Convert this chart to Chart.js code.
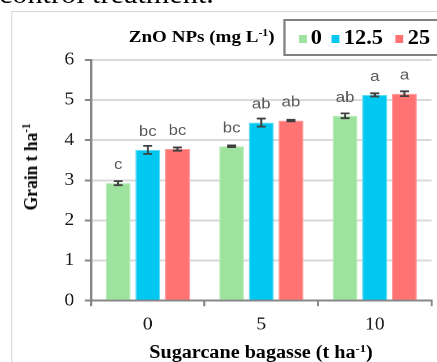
<!DOCTYPE html>
<html>
<head>
<meta charset="utf-8">
<script src="https://cdn.jsdelivr.net/npm/chart.js@4.4.1/dist/chart.umd.min.js"></script>
<style>
  body { margin: 0; background: #fff; }
  #outer { position: relative; width: 437px; height: 362px; overflow: hidden; background: #fff; }
  /* the source figure is stretched sideways, so draw narrow and widen */
  #inner { position: absolute; left: 0; top: 0; width: 390px; height: 362px; transform: scaleX(1.12); transform-origin: 0 0; }
  .serif { font-family: "Liberation Serif", "Times New Roman", serif; color: #000; position: absolute; white-space: nowrap; }
  .b { font-weight: bold; }
  sup { font-size: 0.62em; vertical-align: 0.55em; line-height: 0; }
  #frame { position: absolute; left: 10px; top: 11px; width: 500px; height: 400px; border: 1px solid #d9d9d9; }
  #legend { position: absolute; left: 253px; top: 19px; width: 200px; height: 33px; border: 2px solid #7f7f7f; background: #fff; }
  .sw { position: absolute; width: 7px; height: 8px; top: 14px; }
  canvas { position: absolute; left: 0; top: 0; }
</style>
</head>
<body>
<div id="outer">
  <div id="inner">
    <div class="serif" style="left:-1px; top:-19px; font-size:27px; line-height:27px;">control treatment.</div>
    <div id="frame"></div>
    <canvas id="chart" width="390" height="362"></canvas>
    <div class="serif b" style="left:115px; top:26px; font-size:17px; line-height:22px;">ZnO NPs (mg L<sup>-1</sup>)</div>
    <div id="legend"></div>
    <div class="serif b" id="ytitle" style="left:27px; top:167px; font-size:17.5px; line-height:20px; transform: translate(-50%,-50%) rotate(-90deg);">Grain t ha<sup>-1</sup></div>
    <div class="serif b" style="left:233px; top:352px; font-size:18px; line-height:20px; transform: translate(-50%,-50%);">Sugarcane bagasse (t ha<sup>-1</sup>)</div>
  </div>
</div>
<script>
const bagasse = ['0', '5', '10'];
const znoLevels = ['0', '12.5', '25'];
const grain0 = [2.93, 3.85, 4.61];
const grain125 = [3.76, 4.44, 5.13];
const grain25 = [3.78, 4.49, 5.16];
const err0 = [0.05, 0.02, 0.06];
const err125 = [0.10, 0.10, 0.04];
const err25 = [0.04, 0.02, 0.06];
const letters0 = ['c', 'bc', 'ab'];
const letters125 = ['bc', 'ab', 'a'];
const letters25 = ['bc', 'ab', 'a'];
const yTicks = [0, 1, 2, 3, 4, 5, 6];

const colors = ['#9de29d', '#00c8f0', '#ff7373'];
const edges = ['#b8ecb8', '#5fdcf5', '#ff9a9a'];

// legend entries built from the zno levels
const legendBox = document.getElementById('legend');
const legendPos = [[12, 22.5], [41, 52], [98, 109]];
znoLevels.forEach((lvl, i) => {
  const sw = document.createElement('div');
  sw.className = 'sw';
  sw.style.left = legendPos[i][0] + 'px';
  sw.style.background = colors[i];
  legendBox.appendChild(sw);
  const t = document.createElement('div');
  t.className = 'serif b';
  t.style.left = legendPos[i][1] + 'px';
  t.style.top = '4px';
  t.style.fontSize = '20px';
  t.style.lineHeight = '24px';
  t.textContent = lvl;
  legendBox.appendChild(t);
});

const errs = [err0, err125, err25];
const letters = [letters0, letters125, letters25];

// error bars and significance letters on top of the bars
const extras = {
  id: 'extras',
  afterDatasetsDraw(chart) {
    const ctx = chart.ctx;
    const y = chart.scales.y;
    chart.data.datasets.forEach((ds, di) => {
      const meta = chart.getDatasetMeta(di);
      meta.data.forEach((bar, i) => {
        const v = ds.data[i];
        const e = errs[di][i];
        const yt = y.getPixelForValue(v + e);
        const yb = y.getPixelForValue(v - e);
        ctx.save();
        ctx.strokeStyle = '#404040';
        ctx.lineWidth = 1.8;
        ctx.beginPath();
        ctx.moveTo(bar.x, yt); ctx.lineTo(bar.x, yb);
        ctx.moveTo(bar.x - 4, yt); ctx.lineTo(bar.x + 4, yt);
        ctx.moveTo(bar.x - 4, yb); ctx.lineTo(bar.x + 4, yb);
        ctx.stroke();
        ctx.fillStyle = '#595959';
        ctx.font = '15px "Liberation Sans", Arial, sans-serif';
        ctx.textAlign = 'center';
        ctx.textBaseline = 'alphabetic';
        ctx.fillText(letters[di][i], bar.x, y.getPixelForValue(v) - 14);
        ctx.restore();
      });
    });
  }
};

const serifFont = { family: '"Liberation Serif", "Times New Roman", serif', size: 17.5 };

new Chart(document.getElementById('chart'), {
  type: 'bar',
  data: {
    labels: bagasse,
    datasets: [
      { label: znoLevels[0], data: grain0, backgroundColor: colors[0], borderColor: edges[0], borderWidth: 1 },
      { label: znoLevels[1], data: grain125, backgroundColor: colors[1], borderColor: edges[1], borderWidth: 1 },
      { label: znoLevels[2], data: grain25, backgroundColor: colors[2], borderColor: edges[2], borderWidth: 1 }
    ]
  },
  options: {
    responsive: false,
    animation: false,
    devicePixelRatio: 2,
    categoryPercentage: 0.784,
    barPercentage: 0.84,
    layout: { padding: { left: 0, top: 60, right: 4.7, bottom: 0 } },
    plugins: { legend: { display: false }, tooltip: { enabled: false } },
    scales: {
      x: {
        grid: { offset: true, drawOnChartArea: false, tickLength: 5.5, tickColor: '#868686', lineWidth: 1.8 },
        border: { color: '#868686', width: 2 },
        ticks: { font: serifFont, color: '#1a1a1a', padding: 8, maxRotation: 0 },
        afterFit(s) { s.height = 61.3; }
      },
      y: {
        min: 0,
        max: 6,
        afterBuildTicks(s) { s.ticks = yTicks.map(v => ({ value: v })); },
        grid: { color: '#d9d9d9', lineWidth: 2, tickLength: 5.5, tickColor: '#868686' },
        border: { color: '#868686', width: 2 },
        ticks: { font: serifFont, color: '#1a1a1a', padding: 9.5 },
        afterFit(s) { s.width = 81.25; }
      }
    }
  },
  plugins: [extras]
});
</script>
</body>
</html>
